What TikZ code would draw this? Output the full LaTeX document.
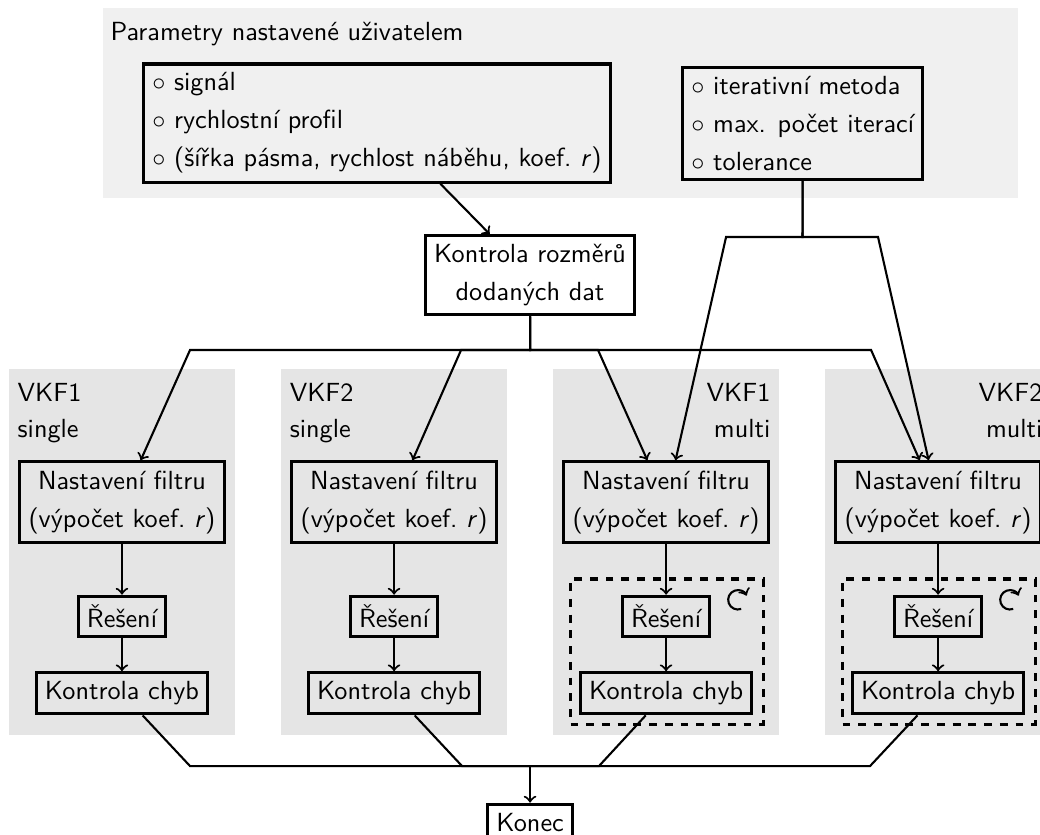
\documentclass[tikz,border=0pt]{standalone}
\usepackage{amssymb}
\usetikzlibrary{positioning,calc,fit}

\begin{document}
\begin{tikzpicture}[%
    thick,
    >=to,
    font=\sffamily,
    node distance=0.44cm,
    box/.style={%
      draw,
      line width=1.2pt,
      align=center
    },
    listbox/.style={%
      draw,
      line width=1.2pt,
      align=left
    },
    lane/.style={%
      fill=gray!20,
      minimum width=3.03cm,
      minimum height=4.91cm
    },
    loopbox/.style={%
      draw,
      dashed,
      line width=1.2pt,
      inner sep=0pt
    }
  ]
    \useasboundingbox (0,0) rectangle (13.94,-11.18);

    % parametry od uzivatele
    \node[fill=gray!12, minimum width=12.27cm, minimum height=2.55cm] (params) at (7.51,-1.38) {};
    \node[anchor=north west] (ptitle) at ([shift={(-0.01,-0.07)}]params.north west) {Parametry nastavené uživatelem};
    \node[listbox, anchor=west] (parA) at (1.903,-1.65)
      {$\circ$ signál\\[2.5pt] $\circ$ rychlostní profil\\[2.5pt] $\circ$ (šířka pásma, rychlost náběhu, koef.~\textit{r})};
    \node[listbox] (parB) at (10.76,-1.65)
      {$\circ$ iterativní metoda\\[2.5pt] $\circ$ max. počet iterací\\[2.5pt] $\circ$ tolerance};
    \node[box] (rozm) at (7.105,-3.69) {Kontrola rozměrů\\[2.5pt] dodaných dat};

    % sloupce
    \node[lane] (lane1) at (1.635,-7.40) {};
    \node[lane] (lane2) at (5.282,-7.40) {};
    \node[lane] (lane3) at (8.928,-7.40) {};
    \node[lane] (lane4) at (12.574,-7.40) {};
    \node[anchor=north west, align=left]  (name1) at ([yshift=-0.07cm]lane1.north west) {VKF1\\[2pt] single};
    \node[anchor=north west, align=left]  (name2) at ([yshift=-0.07cm]lane2.north west) {VKF2\\[2pt] single};
    \node[anchor=north east, align=right] (name3) at ([yshift=-0.07cm]lane3.north east) {VKF1\\[2pt] multi};
    \node[anchor=north east, align=right] (name4) at ([yshift=-0.07cm]lane4.north east) {VKF2\\[2pt] multi};

    \node[box] (set1) at (1.635,-6.73)  {Nastavení filtru\\[2.5pt] (výpočet koef.~\textit{r})};
    \node[box] (res1) [below=0.68cm of set1] {Řešení};
    \node[box] (kc1)  [below=of res1]        {Kontrola chyb};

    \node[box] (set2) at (5.282,-6.73)  {Nastavení filtru\\[2.5pt] (výpočet koef.~\textit{r})};
    \node[box] (res2) [below=0.68cm of set2] {Řešení};
    \node[box] (kc2)  [below=of res2]        {Kontrola chyb};

    \node[box] (set3) at (8.928,-6.73)  {Nastavení filtru\\[2.5pt] (výpočet koef.~\textit{r})};
    \node[box] (res3) [below=0.68cm of set3] {Řešení};
    \node[box] (kc3)  [below=of res3]        {Kontrola chyb};

    \node[box] (set4) at (12.574,-6.73) {Nastavení filtru\\[2.5pt] (výpočet koef.~\textit{r})};
    \node[box] (res4) [below=0.68cm of set4] {Řešení};
    \node[box] (kc4)  [below=of res4]        {Kontrola chyb};

    % iterace
    \coordinate (l3a) at ($(kc3.south west)+(-0.11,-0.12)$);
    \coordinate (l3b) at ($(kc3.east |- res3.north)+(0.13,0.21)$);
    \node[loopbox, fit=(l3a)(l3b)] (loop3) {};
    \coordinate (cyc3) at ([shift={(-0.36,-0.30)}]loop3.north east);
    \draw[->] ($(cyc3)+(-70:0.13)$) arc[start angle=-70, end angle=-335, radius=0.13cm];
    \coordinate (l4a) at ($(kc4.south west)+(-0.11,-0.12)$);
    \coordinate (l4b) at ($(kc4.east |- res4.north)+(0.13,0.21)$);
    \node[loopbox, fit=(l4a)(l4b)] (loop4) {};
    \coordinate (cyc4) at ([shift={(-0.36,-0.30)}]loop4.north east);
    \draw[->] ($(cyc4)+(-70:0.13)$) arc[start angle=-70, end angle=-335, radius=0.13cm];

    \node[box] (konec) at (7.105,-11.02) {Konec};

    % spojnice
    \coordinate (split) at (7.105,-4.692);
    \coordinate (in1)   at (2.547,-4.692);
    \coordinate (in2)   at (6.180,-4.692);
    \coordinate (in3)   at (8.016,-4.692);
    \coordinate (in4)   at (11.676,-4.692);
    \coordinate (itsplit) at (10.757,-3.177);
    \coordinate (it3)   at (9.732,-3.177);
    \coordinate (it4)   at (11.769,-3.177);
    \coordinate (merge) at (7.105,-10.268);
    \coordinate (out1)  at (2.547,-10.268);
    \coordinate (out2)  at (6.193,-10.268);
    \coordinate (out3)  at (8.029,-10.268);
    \coordinate (out4)  at (11.662,-10.268);

    \draw[->] ([xshift=4cm]parA.south west) -- (rozm);
    \draw[->] (rozm) -- (split) -- (in1) -- (set1);
    \draw[->] (rozm) -- (split) -- (in2) -- (set2);
    \draw[->] (rozm) -- (split) -- (in3) -- (set3);
    \draw[->] (rozm) -- (split) -- (in4) -- (set4);
    \draw[->] (parB) -- (itsplit) -- (it3) -- (set3);
    \draw[->] (parB) -- (itsplit) -- (it4) -- (set4);

    \path[->] (set1) edge (res1)
              (res1) edge (kc1)
              (set2) edge (res2)
              (res2) edge (kc2)
              (set3) edge (res3)
              (res3) edge (kc3)
              (set4) edge (res4)
              (res4) edge (kc4);

    \draw (kc1) -- (out1) -- (merge);
    \draw (kc2) -- (out2) -- (merge);
    \draw (kc3) -- (out3) -- (merge);
    \draw (kc4) -- (out4) -- (merge);
    \draw[->] (merge) -- (konec);
\end{tikzpicture}
\end{document}
